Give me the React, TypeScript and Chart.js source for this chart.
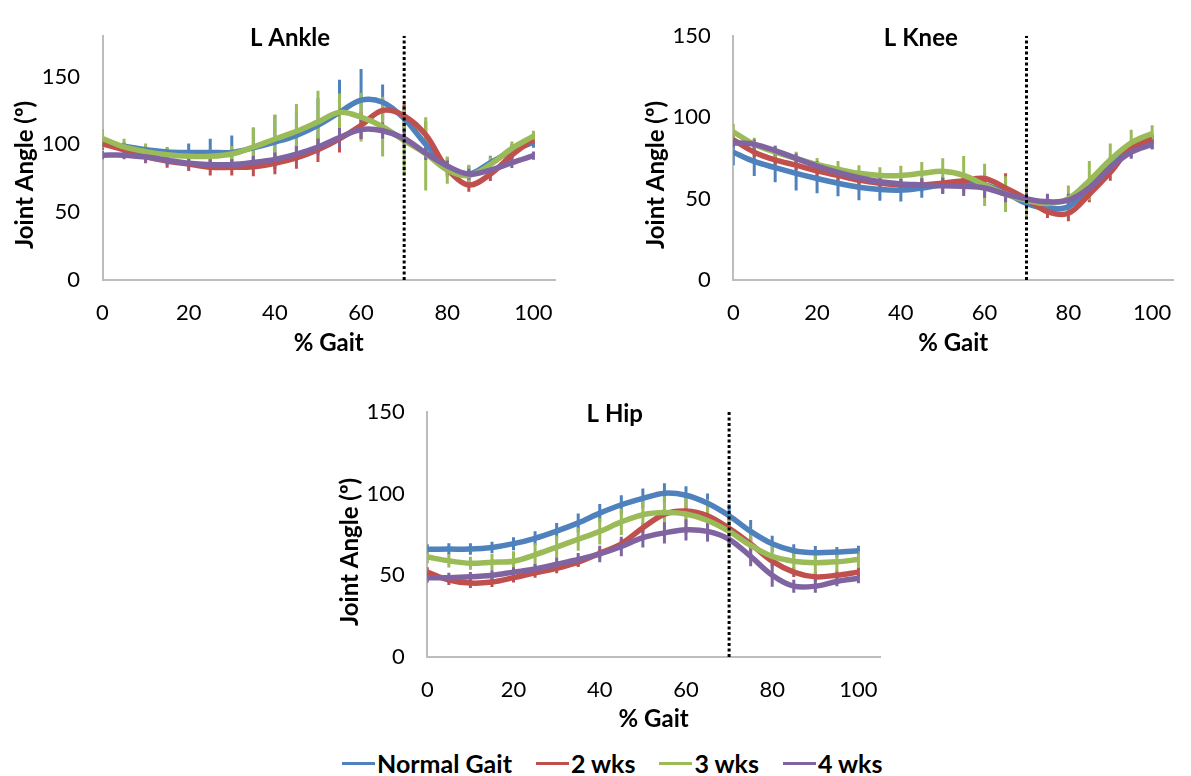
import React, { useEffect, useRef } from "react";
import { Chart, registerables } from "chart.js";

Chart.register(...registerables);

// ---------- data ----------
const GAIT_PCT = [0, 5, 10, 15, 20, 25, 30, 35, 40, 45, 50, 55, 60, 65, 70, 75, 80, 85, 90, 95, 100];
const SERIES_LABELS = ["Normal Gait", "2 wks", "3 wks", "4 wks"];
const SERIES_COLORS = ["#4F81BD", "#C0504D", "#9BBB59", "#8064A2"];
const X_TICKS = [0, 20, 40, 60, 80, 100];
const Y_TICKS = [0, 50, 100, 150];
const TOE_OFF_PCT = 70;
const X_AXIS_MAX = 105;
const Y_TITLE = "Joint Angle (º)";
const X_TITLE = "% Gait";

// L Ankle
const ANKLE_Y_MAX = 180;
const ANKLE_NORMAL = [100, 98.5, 96, 94.4, 94, 94, 94, 97.4, 101.6, 106.6, 114, 123.5, 132.5, 131, 119, 100, 84, 78, 86.5, 95, 101.5];
const ANKLE_2WK = [100.4, 96, 91, 87.7, 85.4, 83, 83, 83.5, 86, 90, 96, 104, 114, 125, 121, 107, 82, 70, 78, 92, 104];
const ANKLE_3WK = [104.3, 98, 94.6, 92.3, 91.1, 91.1, 92.8, 98, 103.9, 109.6, 116.5, 123.5, 120, 113, 102.7, 93, 81, 77, 85, 97, 106];
const ANKLE_4WK = [92, 92, 90.6, 88.3, 86, 85, 85, 86.6, 88.9, 92.8, 98, 105, 110.8, 110, 104.3, 93.5, 84, 78, 81, 86.5, 91.6];
const ANKLE_NORMAL_SD = [4, 3, 3, 3.5, 6.5, 10, 12.5, 15, 20, 18, 20, 24, 23, 13, 10, 8, 6, 6, 5, 5, 4];
const ANKLE_2WK_SD = [4, 4, 5, 5, 5, 6, 6, 7, 8, 8, 9, 10, 10, 9, 9, 10, 6, 5, 5, 5, 4];
const ANKLE_3WK_SD = [7, 6, 6, 5, 4, 5, 6, 14, 18, 20, 23, 14, 18, 22, 25, 27, 10, 8, 6, 5, 4];
const ANKLE_4WK_SD = [3, 3, 4, 4, 4, 4, 4, 5, 5, 6, 6, 7, 7, 6, 6, 5, 4, 4, 4, 4, 3];

// L Knee
const KNEE_Y_MAX = 150;
const KNEE_NORMAL = [78.5, 72.8, 69, 65.5, 62.3, 59.4, 57, 55.6, 55.2, 56.5, 58.4, 59.4, 58.4, 53.6, 47, 44, 45, 57.5, 70.9, 80.5, 84.3];
const KNEE_2WK = [86, 78.5, 73.8, 70.5, 67, 64.2, 61.3, 59.4, 58.4, 58.4, 59.4, 61, 62.3, 56.5, 49.8, 42, 41, 52.7, 66, 81.4, 86.6];
const KNEE_3WK = [91, 83.3, 78.5, 74.7, 70.9, 68, 65.5, 64.2, 64.2, 65.5, 66.7, 64.2, 58.4, 52.7, 48.9, 47, 50, 61, 73.8, 84.3, 90];
const KNEE_4WK = [84.3, 83.3, 79.5, 74.7, 70, 66, 62.8, 60.3, 59, 58.4, 57.8, 57.5, 56.5, 52.7, 49.8, 48, 49, 56.5, 69, 78.5, 83.3];
const KNEE_NORMAL_SD = [8, 9, 9, 10.5, 9, 8, 8, 7, 7, 6, 5, 5, 4, 4, 4, 4, 4, 5, 5, 5, 4];
const KNEE_2WK_SD = [4, 3, 3, 3, 3, 3, 3, 3, 3, 3, 3, 3, 4, 9, 5, 4, 5, 5, 5, 4, 3];
const KNEE_3WK_SD = [5, 4, 4, 4, 4, 5, 5, 5, 6, 7, 8, 12, 13, 11, 10, 5, 8, 12, 10, 8, 5];
const KNEE_4WK_SD = [3, 3, 3, 3, 3, 3, 3, 3, 3, 4, 5, 6, 6, 5, 4, 5, 4, 4, 4, 4, 3];

// L Hip
const HIP_Y_MAX = 150;
const HIP_NORMAL = [65.9, 66, 66, 67, 69.3, 72.6, 77, 82, 88, 93.1, 97, 100.2, 98.9, 94, 86.4, 76.8, 69.2, 65, 63.8, 64.2, 65];
const HIP_2WK = [51.9, 47.1, 45.2, 45.8, 48.5, 51.5, 54.2, 58, 63.4, 69.2, 79, 87.4, 89.3, 86.4, 78.7, 69.2, 58.6, 51.9, 49, 50, 51.9];
const HIP_3WK = [61.1, 58.8, 57.3, 58, 58.6, 62.5, 67.2, 72, 76.8, 82.6, 87, 88.3, 87.4, 83.5, 76.8, 68.2, 61.5, 58.6, 57.7, 58.2, 59.6];
const HIP_4WK = [48.5, 48.5, 49, 50, 51.9, 53.8, 56.7, 59.6, 63, 67.6, 73, 75.9, 77.8, 76.8, 72, 61.5, 50, 43.3, 43.3, 46.2, 48.1];
const HIP_NORMAL_SD = [3, 3.5, 3.5, 3.5, 4, 4.3, 5, 5.7, 5.5, 5.8, 6, 6, 5.5, 6, 7, 7, 5, 4, 4, 3, 3];
const HIP_2WK_SD = [3, 3, 3, 3, 3, 3, 3, 3, 3, 3, 3, 3, 4, 5, 4, 4, 3, 3, 3, 3, 3];
const HIP_3WK_SD = [4, 4, 4, 5, 6, 7, 7, 7, 8, 8, 9, 10, 12, 13, 10, 8, 7, 7, 7, 6, 5];
const HIP_4WK_SD = [3, 3, 3, 3, 3, 3, 4, 4, 5, 6, 6, 6.5, 6.5, 6, 5, 6, 7, 4, 4, 3, 3];

// ---------- styling ----------
const FONT = "Lato";
const AXIS_COLOR = "#BDBDBD";

const panelText = {
  id: "panelText",
  afterDraw(chart: any, _args: any, opts: any) {
    const { ctx, chartArea } = chart;
    ctx.save();
    ctx.fillStyle = "#000";
    ctx.font = `bold 24px ${FONT}`;
    ctx.textAlign = "center";
    ctx.textBaseline = "middle";
    ctx.fillText(opts.title, chartArea.left + 187.5, chartArea.top + 3);
    ctx.translate(chartArea.left - 77, chartArea.bottom - 105);
    ctx.rotate(-Math.PI / 2);
    ctx.fillText(opts.yTitle, 0, 0);
    ctx.restore();
  },
};

function errorBarPoints(values: number[], sds: number[]) {
  const pts: any[] = [];
  GAIT_PCT.forEach((x, i) => {
    pts.push({ x, y: values[i] - sds[i] });
    pts.push({ x, y: values[i] + sds[i] });
    pts.push({ x, y: null });
  });
  return pts;
}

type PanelProps = {
  title: string;
  yMax: number;
  series: number[][];
  sds: number[][];
  left: number;
  top: number;
  width: number;
  height: number;
  yAxisWidth: number;
  padTop: number;
  padRight: number;
  xAxisHeight: number;
};

function Panel(p: PanelProps) {
  const ref = useRef<HTMLCanvasElement | null>(null);
  useEffect(() => {
    if (!ref.current) return;
    const datasets: any[] = [];
    p.series.forEach((vals, i) => {
      datasets.push({
        label: SERIES_LABELS[i],
        data: GAIT_PCT.map((x, j) => ({ x, y: vals[j] })),
        borderColor: SERIES_COLORS[i],
        backgroundColor: SERIES_COLORS[i],
        borderWidth: 5.5,
        pointRadius: 0,
        tension: 0.35,
        fill: false,
        order: 4 - i,
      });
    });
    p.series.forEach((vals, i) => {
      datasets.push({
        label: SERIES_LABELS[i] + " SD",
        data: errorBarPoints(vals, p.sds[i]),
        borderColor: SERIES_COLORS[i],
        borderWidth: 3,
        pointRadius: 0,
        tension: 0,
        spanGaps: false,
        fill: false,
        order: 20 - i,
      });
    });
    datasets.push({
      label: "toe-off",
      data: [
        { x: TOE_OFF_PCT, y: 0 },
        { x: TOE_OFF_PCT, y: p.yMax },
      ],
      borderColor: "#000",
      borderWidth: 3,
      borderDash: [3, 2.5],
      pointRadius: 0,
      tension: 0,
      fill: false,
      order: 0,
    });

    const chart = new Chart(ref.current, {
      type: "line",
      data: { datasets },
      plugins: [panelText],
      options: {
        animation: false,
        responsive: false,
        devicePixelRatio: 1,
        events: [],
        layout: { padding: { top: p.padTop, right: p.padRight, left: 0, bottom: 0 } },
        plugins: {
          legend: { display: false },
          tooltip: { enabled: false },
          panelText: { title: p.title, yTitle: Y_TITLE },
        } as any,
        scales: {
          x: {
            type: "linear",
            min: 0,
            max: X_AXIS_MAX,
            afterBuildTicks: (s: any) => {
              s.ticks = X_TICKS.map((v) => ({ value: v }));
            },
            afterFit: (s: any) => {
              s.height = p.xAxisHeight;
            },
            grid: { display: false, drawTicks: false },
            border: { display: true, color: AXIS_COLOR, width: 2 },
            ticks: {
              padding: 19.5,
              autoSkip: false,
              maxRotation: 0,
              color: "#000",
              font: { family: FONT, size: 22 },
            },
            title: {
              display: true,
              text: X_TITLE,
              color: "#000",
              font: { family: FONT, size: 24, weight: "bold" },
              padding: { top: 0, bottom: 2 },
            },
          },
          y: {
            type: "linear",
            min: 0,
            max: p.yMax,
            afterBuildTicks: (s: any) => {
              s.ticks = Y_TICKS.map((v) => ({ value: v }));
            },
            afterFit: (s: any) => {
              s.width = p.yAxisWidth;
            },
            grid: { display: false, drawTicks: false },
            border: { display: true, color: AXIS_COLOR, width: 2 },
            ticks: {
              padding: 22.5,
              color: "#000",
              font: { family: FONT, size: 22 },
            },
          },
        },
      } as any,
    });
    return () => chart.destroy();
  }, []);
  return (
    <canvas
      ref={ref}
      width={p.width}
      height={p.height}
      style={{ position: "absolute", left: p.left, top: p.top, width: p.width, height: p.height }}
    />
  );
}

export default function App() {
  return (
    <div
      style={{
        position: "fixed",
        left: 0,
        top: 0,
        width: 1191,
        height: 776,
        background: "#fff",
        overflow: "hidden",
      }}
    >
      <Panel
        title="L Ankle"
        yMax={ANKLE_Y_MAX}
        series={[ANKLE_NORMAL, ANKLE_2WK, ANKLE_3WK, ANKLE_4WK]}
        sds={[ANKLE_NORMAL_SD, ANKLE_2WK_SD, ANKLE_3WK_SD, ANKLE_4WK_SD]}
        left={0}
        top={0}
        width={580}
        height={360}
        yAxisWidth={102.5}
        padTop={20}
        padRight={25}
        xAxisHeight={80}
      />
      <Panel
        title="L Knee"
        yMax={KNEE_Y_MAX}
        series={[KNEE_NORMAL, KNEE_2WK, KNEE_3WK, KNEE_4WK]}
        sds={[KNEE_NORMAL_SD, KNEE_2WK_SD, KNEE_3WK_SD, KNEE_4WK_SD]}
        left={631}
        top={0}
        width={560}
        height={360}
        yAxisWidth={102.3}
        padTop={19}
        padRight={4.4}
        xAxisHeight={80}
      />
      <Panel
        title="L Hip"
        yMax={HIP_Y_MAX}
        series={[HIP_NORMAL, HIP_2WK, HIP_3WK, HIP_4WK]}
        sds={[HIP_NORMAL_SD, HIP_2WK_SD, HIP_3WK_SD, HIP_4WK_SD]}
        left={325}
        top={376}
        width={575}
        height={360}
        yAxisWidth={102.3}
        padTop={20}
        padRight={20}
        xAxisHeight={79}
      />
      <div
        style={{
          position: "absolute",
          left: 342,
          top: 748,
          display: "flex",
          alignItems: "center",
          gap: 24,
          fontFamily: FONT,
          fontWeight: 700,
          fontSize: 25,
          lineHeight: "30px",
          color: "#000",
          whiteSpace: "nowrap",
        }}
      >
        {SERIES_LABELS.map((label, i) => (
          <div key={label} style={{ display: "flex", alignItems: "center" }}>
            <span
              style={{
                display: "inline-block",
                width: 33,
                height: 3,
                background: SERIES_COLORS[i],
                marginRight: 2,
              }}
            />
            <span>{label}</span>
          </div>
        ))}
      </div>
    </div>
  );
}
